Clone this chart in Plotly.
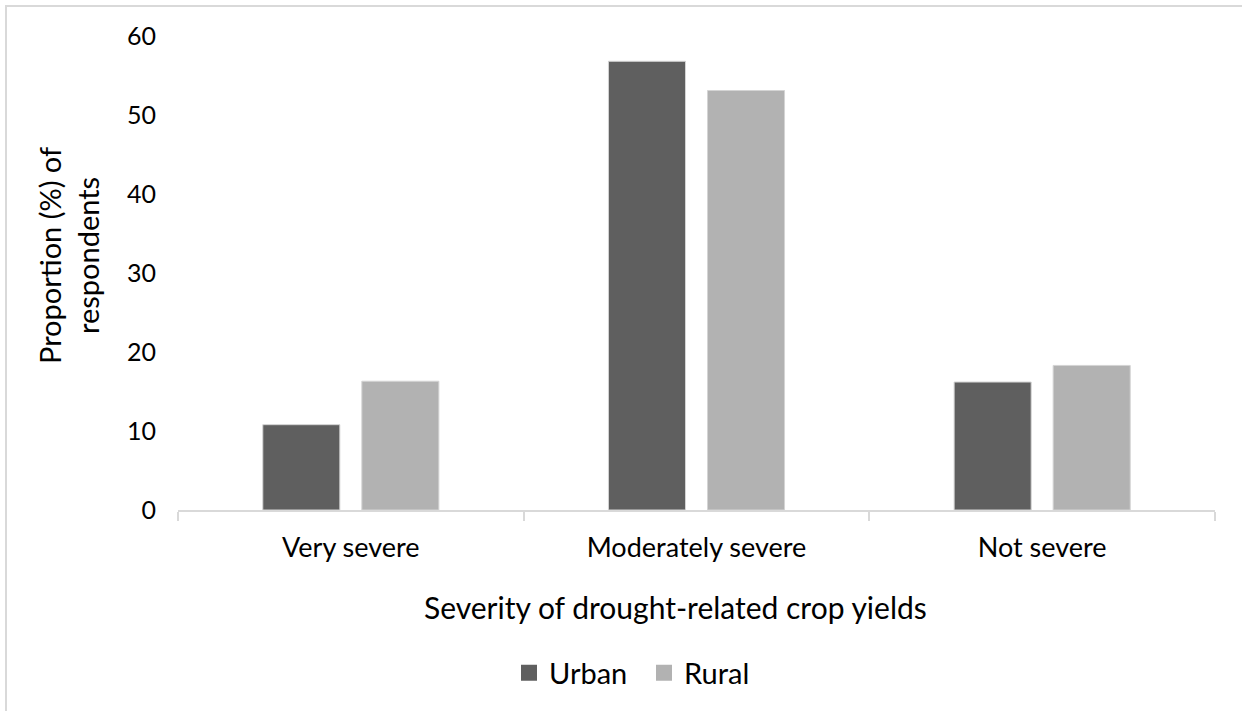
import plotly.graph_objects as go

# Survey results: share of respondents by perceived severity
categories = ["Very severe", "Moderately severe", "Not severe"]
urban = [10.8, 56.8, 16.2]
rural = [16.3, 53.1, 18.3]
y_ticks = [0, 10, 20, 30, 40, 50, 60]

series = [("Urban", urban, "#5f5f5f"), ("Rural", rural, "#b2b2b2")]

W, H = 1242, 711
L, R, T, B = 178, 27, 36, 201
FONT = "Lato"

fig = go.Figure()
for name, vals, color in series:
    fig.add_trace(go.Bar(
        x=categories, y=vals, name=name, legendgroup=name, showlegend=False,
        marker=dict(color=color, line=dict(color="#d4d4d4", width=1)),
    ))
# legend keys drawn as larger square swatches
for name, vals, color in series:
    fig.add_trace(go.Scatter(
        x=[None], y=[None], name=name, legendgroup=name, mode="markers",
        marker=dict(symbol="square", size=16, color=color, line=dict(width=0)),
        showlegend=True, hoverinfo="skip",
    ))

pw = W - L - R
ph = H - T - B

def px_x(x):
    return (x - L) / pw

def px_y(y):
    return (H - B - y) / ph

fig.update_layout(
    width=W, height=H,
    margin=dict(l=L, r=R, t=T, b=B, autoexpand=False),
    paper_bgcolor="white", plot_bgcolor="white",
    font=dict(family=FONT, color="#000000"),
    barmode="group", bargap=0.427, bargroupgap=0.222,
    showlegend=True,
    legend=dict(
        orientation="h", x=px_x(509), xanchor="left",
        y=px_y(673), yanchor="middle",
        font=dict(size=29, family=FONT, color="#000000"),
        entrywidth=90, itemwidth=30,
        bgcolor="rgba(0,0,0,0)",
    ),
    xaxis=dict(
        showline=True, linecolor="#d9d9d9", linewidth=1.5,
        ticks="outside", ticklen=9, tickcolor="#d9d9d9", tickwidth=1.5,
        tickson="boundaries",
        tickfont=dict(size=27, family=FONT, color="#000000"),
        ticklabelstandoff=13,
        showgrid=False, zeroline=False, fixedrange=True,
    ),
    yaxis=dict(
        range=[0, 60], tickvals=y_ticks,
        showline=False, showgrid=False, zeroline=False,
        ticks="", ticklabelstandoff=21,
        tickfont=dict(size=25, family=FONT, color="#000000"),
        fixedrange=True,
    ),
    annotations=[
        dict(
            text="Severity of drought-related crop yields",
            xref="paper", yref="paper", x=px_x(675), y=px_y(607),
            xanchor="center", yanchor="middle", showarrow=False,
            font=dict(size=30, family=FONT, color="#000000"),
        ),
        dict(
            text="Proportion (%) of<br>respondents",
            xref="paper", yref="paper", x=px_x(68), y=px_y(256),
            xanchor="center", yanchor="middle", showarrow=False,
            textangle=-90,
            font=dict(size=29, family=FONT, color="#000000"),
        ),
    ],
    shapes=[
        # chart-area frame (only top and left edges fall inside the page)
        dict(type="rect", xref="paper", yref="paper",
             x0=px_x(6), x1=px_x(W + 20), y0=px_y(H + 20), y1=px_y(6),
             line=dict(color="#d9d9d9", width=2), fillcolor="rgba(0,0,0,0)",
             layer="below"),
    ],
)

fig.write_html("out.html")
